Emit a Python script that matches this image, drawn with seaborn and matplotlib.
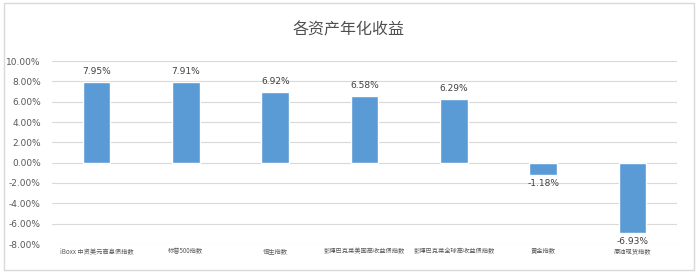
import matplotlib
matplotlib.use("Agg")
import matplotlib.pyplot as plt
import seaborn as sns
import pandas as pd
from matplotlib.patches import Rectangle

categories = ["iBoxx 中资美元高息债指数", "标普500指数", "恒生指数",
              "彭博巴克莱美国高收益债指数", "彭博巴克莱全球高收益债指数",
              "黄金指数", "原油现货指数"]
values = [7.95, 7.91, 6.92, 6.58, 6.29, -1.18, -6.93]
yticks = [-8, -6, -4, -2, 0, 2, 4, 6, 8, 10]

sns.set_theme(style="white")
plt.rcParams['font.family'] = ['Noto Sans CJK SC', 'DejaVu Sans']

df = pd.DataFrame({"cat": categories, "val": values})

fig = plt.figure(figsize=(6.98, 2.75), dpi=100)
fig.patches.append(Rectangle((4/698, 1-270/275), 690/698, 267/275, transform=fig.transFigure,
                             fill=False, edgecolor="#D9D9D9", linewidth=1))
ax = fig.add_axes([52/698, 1-244/275, 625/698, 183/275])
sns.barplot(data=df, x="cat", y="val", color="#5B9BD5", saturation=1, width=0.31, ax=ax, zorder=3)
ax.set_ylim(-8, 10)
ax.set_xlim(-0.5, len(categories)-0.5)
ax.set_yticks(yticks)
ax.set_yticklabels([f"{v:.2f}%" for v in yticks], fontsize=6.5, color="#595959", family="DejaVu Sans")
ax.tick_params(axis="y", length=0, pad=8)
ax.tick_params(axis="x", length=0, pad=2)
ax.set_xticks(range(len(categories)))
ax.set_xticklabels(categories, fontsize=4.5, color="#595959")
ax.set_xlabel("")
ax.set_ylabel("")
ax.grid(axis="y", color="#D9D9D9", linewidth=0.8, zorder=0)
for s in ax.spines.values():
    s.set_visible(False)
for i, v in enumerate(values):
    if v >= 0:
        ax.text(i, v + 0.6, f"{v:.2f}%", ha="center", va="bottom", fontsize=6.5, color="#404040", family="DejaVu Sans")
    else:
        ax.text(i, v - 0.4, f"{v:.2f}%", ha="center", va="top", fontsize=6.5, color="#404040", family="DejaVu Sans")
fig.text(0.5, 1-30/275, "各资产年化收益", ha="center", va="center", fontsize=11.5, color="#505050", weight="medium")
fig.savefig("out.png", dpi=100)
